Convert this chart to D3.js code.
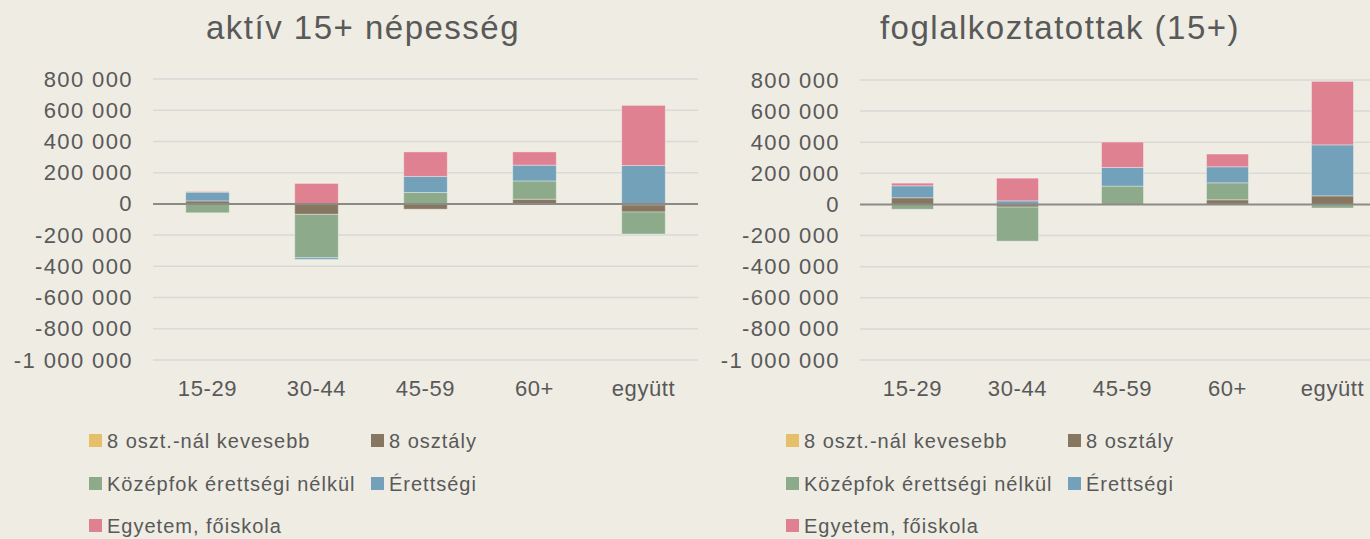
<!DOCTYPE html>
<html>
<head>
<meta charset="utf-8">
<script src="https://cdn.jsdelivr.net/npm/d3@7"></script>
<style>
  body { margin: 0; background: #EEECE3; }
  svg { display: block; font-family: "Liberation Sans", Arial, sans-serif; }
</style>
</head>
<body>
<svg id="chart" width="1370" height="539"></svg>
<script>
// categories + series
const categories = ["15-29", "30-44", "45-59", "60+", "együtt"];
const seriesNames = ["8 oszt.-nál kevesebb", "8 osztály", "Középfok érettségi nélkül", "Érettségi", "Egyetem, főiskola"];
const seriesColors = ["#E6BF6A", "#877760", "#8DAB8B", "#73A1BA", "#E08192"];

// aktív 15+ népesség (change, persons)
const aktivKevesebb = [-2000, -3000, -4000, 2000, -7000];
const aktiv8osztaly = [19000, -64000, -30000, 28000, -45000];
const aktivKozepfok = [-55000, -278000, 73000, 117000, -141000];
const aktivErettsegi = [56000, -11000, 103000, 101000, 246000];
const aktivEgyetem = [4000, 131000, 157000, 85000, 385000];

// foglalkoztatottak (15+)
const foglKevesebb = [-1000, -2000, -1000, 1000, -3000];
const fogl8osztaly = [43000, -15000, -2000, 29000, 55000];
const foglKozepfok = [-30000, -219000, 118000, 109000, -20000];
const foglErettsegi = [77000, 23000, 120000, 103000, 328000];
const foglEgyetem = [17000, 146000, 163000, 82000, 408000];

const yTicks = [-1000000, -800000, -600000, -400000, -200000, 0, 200000, 400000, 600000, 800000];

const svg = d3.select("svg#chart");
const WIDTH = +svg.attr("width");
const HEIGHT = +svg.attr("height");
svg.append("rect").attr("width", WIDTH).attr("height", HEIGHT).attr("fill", "#EEECE3");

const TEXT_COLOR = "#595959";
const fmt = d3.formatLocale({ decimal: ",", thousands: " ", grouping: [3], currency: ["", ""], minus: "-" }).format(",d");

// build rows for d3.stack
function makeRows(cols) {
  return categories.map((c, i) => {
    const row = { cat: c };
    seriesNames.forEach((s, j) => { row[s] = cols[j][i]; });
    return row;
  });
}

function drawChart({ title, cols, x0, x1, yTop, yBottom, titleX, legendX }) {
  const data = makeRows(cols);
  const g = svg.append("g");

  const xScale = d3.scaleBand()
    .domain(categories)
    .range([x0, x1])
    .paddingInner(0.6)
    .paddingOuter(0.3);

  const yScale = d3.scaleLinear()
    .domain([-1000000, 800000])
    .range([yBottom, yTop]);

  // gridlines
  g.append("g").selectAll("line")
    .data(yTicks.filter(d => d !== 0))
    .join("line")
    .attr("x1", x0).attr("x2", x1)
    .attr("y1", d => yScale(d)).attr("y2", d => yScale(d))
    .attr("stroke", "#D9D9D6")
    .attr("stroke-width", 1.5);

  // y axis labels
  const yAxis = d3.axisLeft(yScale).tickValues(yTicks).tickFormat(fmt).tickSize(0).tickPadding(20);
  g.append("g")
    .attr("transform", `translate(${x0},0)`)
    .call(yAxis)
    .call(a => a.select(".domain").remove())
    .selectAll("text")
    .attr("fill", TEXT_COLOR)
    .style("font-size", "22px")
    .style("letter-spacing", "1.4px");

  // bars
  const stack = d3.stack().keys(seriesNames).offset(d3.stackOffsetDiverging);
  const layers = stack(data);
  g.append("g").selectAll("g")
    .data(layers)
    .join("g")
    .attr("fill", (d, i) => seriesColors[i])
    .selectAll("rect")
    .data(d => d)
    .join("rect")
    .attr("x", d => xScale(d.data.cat))
    .attr("width", xScale.bandwidth())
    .attr("y", d => yScale(Math.max(d[0], d[1])))
    .attr("height", d => Math.abs(yScale(d[0]) - yScale(d[1])))
    .attr("stroke", "rgba(255,255,255,0.35)")
    .attr("stroke-width", 1);

  // zero line
  g.append("line")
    .attr("x1", x0).attr("x2", x1)
    .attr("y1", yScale(0)).attr("y2", yScale(0))
    .attr("stroke", "#8C8A84")
    .attr("stroke-width", 2);

  // x labels
  const xAxis = d3.axisBottom(xScale).tickSize(0).tickPadding(20);
  g.append("g")
    .attr("transform", `translate(0,${yBottom})`)
    .call(xAxis)
    .call(a => a.select(".domain").remove())
    .selectAll("text")
    .attr("fill", TEXT_COLOR)
    .style("font-size", "22px")
    .style("letter-spacing", "0.6px");

  // title
  g.append("text")
    .attr("x", titleX).attr("y", 39)
    .attr("text-anchor", "middle")
    .attr("fill", TEXT_COLOR)
    .style("font-size", "33px")
    .style("letter-spacing", "1.5px")
    .text(title);

  // legend
  const legendPos = [[0, 441], [282, 441], [0, 484], [282, 484], [0, 526]];
  const legend = g.append("g").selectAll("g")
    .data(seriesNames)
    .join("g")
    .attr("transform", (d, i) => `translate(${legendX + legendPos[i][0]},${legendPos[i][1]})`);
  legend.append("rect")
    .attr("x", 0).attr("y", -7)
    .attr("width", 13).attr("height", 13)
    .attr("fill", (d, i) => seriesColors[i]);
  legend.append("text")
    .attr("x", 18).attr("y", 7)
    .attr("fill", TEXT_COLOR)
    .style("font-size", "20px")
    .style("letter-spacing", "1px")
    .text(d => d);
}

drawChart({
  title: "aktív 15+ népesség",
  cols: [aktivKevesebb, aktiv8osztaly, aktivKozepfok, aktivErettsegi, aktivEgyetem],
  x0: 153, x1: 698, yTop: 79, yBottom: 360,
  titleX: 363, legendX: 89
});

drawChart({
  title: "foglalkoztatottak (15+)",
  cols: [foglKevesebb, fogl8osztaly, foglKozepfok, foglErettsegi, foglEgyetem],
  x0: 860, x1: 1385, yTop: 80, yBottom: 360,
  titleX: 1060, legendX: 786
});
</script>
</body>
</html>
